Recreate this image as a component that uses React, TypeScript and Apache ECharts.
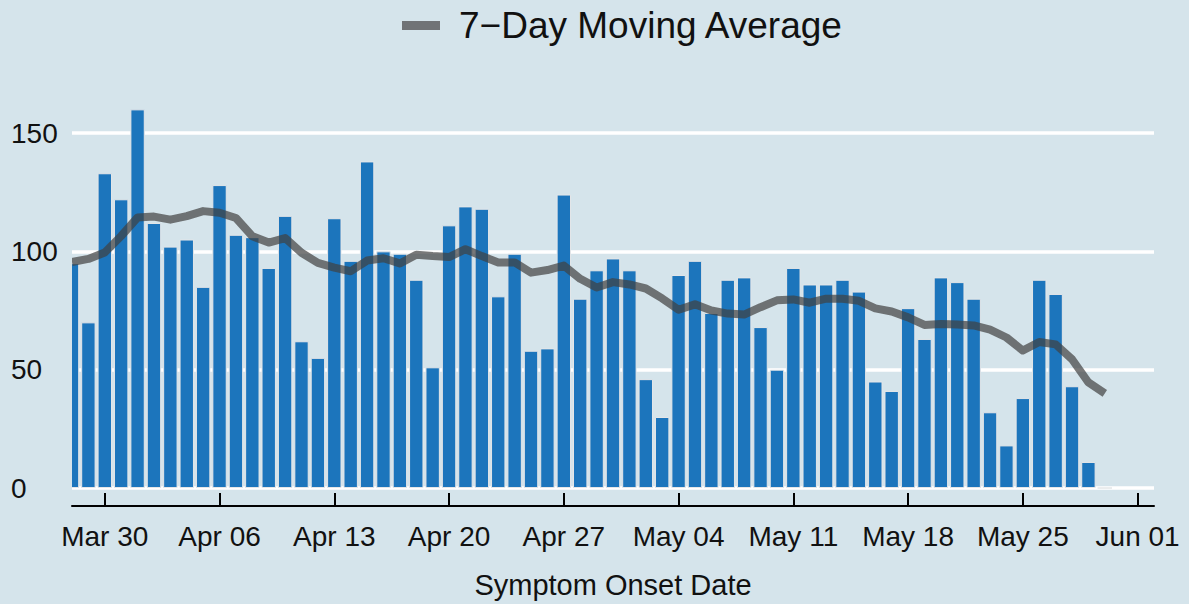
import React, { useEffect, useRef } from "react";
import * as echarts from "echarts";

// Daily case counts by symptom onset date, Mar 28 .. May 30
const firstDayOffset = -2; // Mar 28 relative to Mar 30
const cases = [
  95, 70, 133, 122,
  160, 112, 102, 105, 85, 128, 107, 106, 93, 115,
  62, 55, 114, 96, 138, 100, 99, 88, 51, 111,
  119, 118, 81, 99, 58, 59, 124, 80, 92, 97,
  92, 46, 30, 90, 96, 74, 88, 89, 68, 50,
  93, 86, 86, 88, 83, 45, 41, 76, 63, 89,
  87, 80, 32, 18, 38, 88, 82, 43, 11, 0,
];
const movingAvg = [
  95.5, 96.8, 99.5, 106.5,
  114.3, 114.7, 113.4, 114.9, 117.0, 116.3, 114.1, 106.4, 103.7, 105.6,
  99.4, 95.1, 93.1, 91.6, 96.1, 97.1, 94.9, 98.6, 98.0, 97.6,
  100.9, 98.0, 95.3, 95.3, 91.0, 92.1, 94.0, 88.4, 84.7, 87.0,
  86.0, 84.3, 80.1, 75.3, 77.6, 75.0, 73.7, 73.3, 76.4, 79.3,
  79.7, 78.3, 80.0, 80.0, 79.1, 75.9, 74.6, 72.1, 68.9, 69.3,
  69.1, 68.7, 66.9, 63.6, 58.1, 61.7, 60.7, 54.4, 44.6, 40.0,
];
const tickLabels = [
  "Mar 30", "Apr 06", "Apr 13", "Apr 20", "Apr 27",
  "May 04", "May 11", "May 18", "May 25", "Jun 01",
];
const tickDays = [0, 7, 14, 21, 28, 35, 42, 49, 56, 63];
const yTicks = [0, 50, 100, 150];
const seriesName = "7\u2212Day Moving Average";

export default function App() {
  const ref = useRef<HTMLDivElement>(null);
  useEffect(() => {
    if (!ref.current) return;
    const chart = echarts.init(ref.current, undefined, { renderer: "svg" });
    const font = "Liberation Sans";
    const bg = "#d5e4eb";
    const barData = cases.map((v, i) => [i + firstDayOffset, v]);
    const lineData = movingAvg.map((v, i) => [i + firstDayOffset, v]);
    chart.setOption({
      animation: false,
      backgroundColor: bg,
      textStyle: { fontFamily: font },
      legend: {
        left: 397,
        top: 2,
        itemWidth: 38,
        itemHeight: 9,
        icon: "rect",
        data: [{ name: seriesName, itemStyle: { color: "#707376", opacity: 1 } }],
        textStyle: { fontSize: 37, color: "#111", fontFamily: font, padding: [0, 0, 0, 14] },
        selectedMode: false,
      },
      grid: { left: 72, right: 35, top: 85.7, bottom: 113.7, containLabel: false },
      xAxis: {
        type: "value",
        min: -2,
        max: 64,
        offset: 18,
        name: "Symptom Onset Date",
        nameLocation: "middle",
        nameGap: 64,
        nameTextStyle: { fontSize: 29, color: "#111", fontFamily: font },
        axisLine: { show: true, onZero: false, lineStyle: { color: "#000", width: 2 } },
        axisTick: {
          show: true,
          inside: true,
          length: 13,
          customValues: tickDays,
          lineStyle: { color: "#000", width: 2 },
        },
        axisLabel: {
          customValues: tickDays,
          margin: 16,
          fontSize: 28,
          color: "#111",
          fontFamily: font,
          formatter: (v: number) => tickLabels[tickDays.indexOf(Math.round(v))] ?? "",
        },
        splitLine: { show: false },
      },
      yAxis: {
        type: "value",
        min: 0,
        max: 170,
        interval: 50,
        axisLine: { show: false },
        axisTick: { show: false },
        axisLabel: {
          customValues: yTicks,
          align: "left",
          margin: 61,
          fontSize: 28,
          color: "#111",
          fontFamily: font,
        },
        splitLine: {
          show: true,
          lineStyle: { color: ["#ffffff", "#ffffff", "#ffffff", "#ffffff", "rgba(0,0,0,0)"], width: 3.5 },
        },
      },
      graphic: [
        {
          type: "rect",
          z: 100,
          silent: true,
          shape: { x: 60, y: 90, width: 12, height: 402 },
          style: { fill: bg },
        },
      ],
      series: [
        {
          type: "bar",
          name: "Cases",
          data: barData,
          barWidth: 14.4,
          clip: true,
          itemStyle: { color: "#1c75bc", borderColor: "#e4e6e8", borderWidth: 1 },
          z: 2,
        },
        {
          type: "line",
          name: seriesName,
          data: lineData,
          symbol: "none",
          clip: true,
          lineStyle: { color: "rgba(64,64,64,0.7)", width: 8, cap: "butt", join: "round" },
          itemStyle: { color: "#707376" },
          z: 3,
        },
      ],
    });
    return () => chart.dispose();
  }, []);
  return (
    <div
      ref={ref}
      style={{ position: "fixed", left: 0, top: 0, width: 1189, height: 604 }}
    />
  );
}
